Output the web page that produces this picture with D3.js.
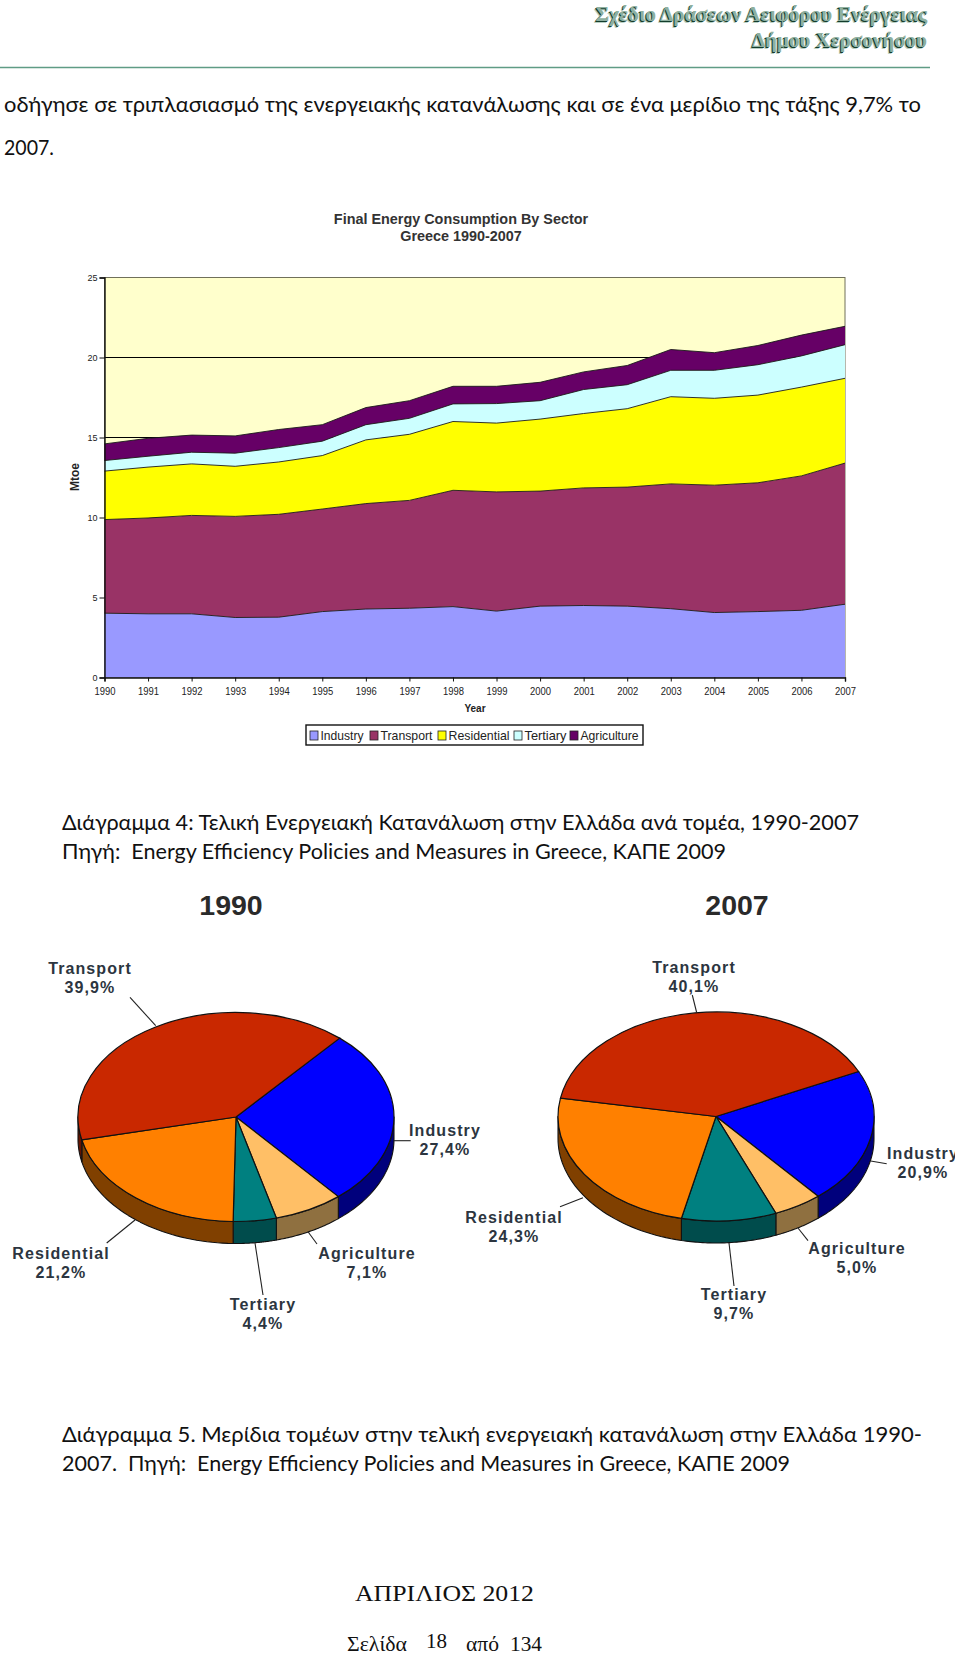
<!DOCTYPE html>
<html><head><meta charset="utf-8">
<script src="https://cdn.jsdelivr.net/npm/d3@7/dist/d3.min.js"></script>
<style>html,body{margin:0;padding:0;background:#fff}svg{display:block}text{font-family:"Liberation Sans",Arial,sans-serif;white-space:pre}</style>
</head><body><svg id="c" width="960" height="1654"></svg>
<script>
const years=[1990,1991,1992,1993,1994,1995,1996,1997,1998,1999,2000,2001,2002,2003,2004,2005,2006,2007];
const seriesNames=["Industry","Transport","Residential","Tertiary","Agriculture"];
const seriesColors=["#9999FF","#993366","#FFFF00","#CCFFFF","#660066"];
const industry=[4.02,3.98,3.98,3.75,3.77,4.12,4.28,4.33,4.43,4.15,4.46,4.50,4.46,4.30,4.06,4.12,4.20,4.58];
const transport=[5.85,5.99,6.15,6.32,6.43,6.41,6.59,6.74,7.27,7.45,7.19,7.35,7.44,7.80,7.96,8.05,8.40,8.82];
const residential=[3.03,3.18,3.22,3.13,3.27,3.34,3.98,4.13,4.30,4.30,4.50,4.65,4.90,5.45,5.43,5.48,5.55,5.30];
const tertiary=[.66,.68,.73,.82,.90,.90,.95,1.0,1.1,1.22,1.15,1.5,1.5,1.65,1.75,1.9,1.95,2.1];
const agriculture=[1.04,1.12,1.07,1.08,1.13,1.03,1.07,1.10,1.10,1.08,1.15,1.10,1.20,1.30,1.10,1.20,1.30,1.15];
const yTicks=[0,5,10,15,20,25];
const pieNames=["Industry","Agriculture","Tertiary","Residential","Transport"];
const pie1990=[27.4,7.1,4.4,21.2,39.9];
const pie2007=[20.9,5.0,9.7,24.3,40.1];
const pieTop=["#0000FF","#FFBF66","#008080","#FF8000","#C92800"];
const pieSide=["#00007C","#8F7040","#004C4C","#804000","#661400"];

const svg=d3.select("#c");

// page text
function bodyText(t,x,y,len,size,fam,extra){
  const e=svg.append("text").attr("x",x).attr("y",y).attr("font-size",size).attr("fill",extra&&extra.fill||"#111")
    .style("font-family",fam).text(t);
  if(len)e.attr("textLength",len).attr("lengthAdjust","spacingAndGlyphs");
  return e;
}
const cal='Lato,"Noto Sans",sans-serif';
const hdr=[["Σχέδιο Δράσεων Αειφόρου Ενέργειας",927,21],["Δήμου Χερσονήσου",927,47]];
hdr.forEach(([t,x,y])=>{
  [["#b7cfc3",2],["#133c2c",1],["#8fb0a0",0]].forEach(([c,o])=>{
    svg.append("text").attr("x",x).attr("y",y+o).attr("dx",-o).attr("text-anchor","end").attr("font-size",21)
      .attr("fill",c).style("font-family",'"Liberation Serif",serif').attr("font-weight","bold").text(t);
  });
});
svg.append("line").attr("x1",0).attr("x2",930).attr("y1",67.5).attr("y2",67.5).attr("stroke","#5f9c85").attr("stroke-width",1.5);
bodyText("οδήγησε σε τριπλασιασμό της ενεργειακής κατανάλωσης και σε ένα μερίδιο της τάξης 9,7% το",4,112,917,21.5,cal);
bodyText("2007.",4,155,50,21.5,cal);
bodyText("Διάγραμμα 4: Τελική Ενεργειακή Κατανάλωση στην Ελλάδα ανά τομέα, 1990-2007",62,830,797,21.5,cal);
bodyText("Πηγή:  Energy Efficiency Policies and Measures in Greece, ΚΑΠΕ 2009",62,859,664,21.5,cal);
bodyText("Διάγραμμα 5. Μερίδια τομέων στην τελική ενεργειακή κατανάλωση στην Ελλάδα 1990-",62,1442,860,21.5,cal);
bodyText("2007.  Πηγή:  Energy Efficiency Policies and Measures in Greece, ΚΑΠΕ 2009",62,1471,728,21.5,cal);
const ser='"Liberation Serif",serif';
bodyText("ΑΠΡΙΛΙΟΣ 2012",355,1601,179,24,ser);
bodyText("Σελίδα",347,1651,60,20,ser);
bodyText("18",426,1648,21,20,ser);
bodyText("από",466,1651,33,20,ser);
bodyText("134",510,1651,32,20,ser);

// stacked area
const x=d3.scaleLinear().domain([1990,2007]).range([104.5,845]);
const y=d3.scaleLinear().domain([0,25]).range([677.5,277.5]);
const rows=years.map((yr,i)=>({year:yr,Industry:industry[i],Transport:transport[i],Residential:residential[i],Tertiary:tertiary[i],Agriculture:agriculture[i]}));
const stacked=d3.stack().keys(seriesNames)(rows);
const g=svg.append("g");
g.append("rect").attr("x",x(1990)).attr("y",y(25)).attr("width",x(2007)-x(1990)).attr("height",y(0)-y(25)).attr("fill","#FFFFCC").attr("stroke","#70705a").attr("stroke-width",1);
g.selectAll("line.grid").data(yTicks.slice(1,-1)).join("line").attr("x1",x(1990)).attr("x2",x(2007)).attr("y1",d=>y(d)).attr("y2",d=>y(d)).attr("stroke","#000").attr("stroke-width",1);
const area=d3.area().x((d,i)=>x(years[i])).y0(d=>y(d[0])).y1(d=>y(d[1]));
const topLine=d3.line().x((d,i)=>x(years[i])).y(d=>y(d[1]));
g.selectAll("path.a").data(stacked).join("path").attr("d",area).attr("fill",(d,i)=>seriesColors[i]);
g.selectAll("path.t").data(stacked).join("path").attr("d",topLine).attr("fill","none").attr("stroke","#1a1a1a").attr("stroke-width",0.9);
const yAxis=d3.axisLeft(y).tickValues(yTicks).tickSize(5).tickPadding(2);
const gy=g.append("g").attr("transform",`translate(${x(1990)},0)`).call(yAxis);
const xAxis=d3.axisBottom(x).tickValues(years).tickFormat(d3.format("d")).tickSize(4).tickPadding(6);
const gx=g.append("g").attr("transform",`translate(0,${y(0)})`).call(xAxis);
[gy,gx].forEach(a=>{a.selectAll("text").attr("font-size",9).attr("fill","#222").style("font-family",'"Liberation Sans"');a.select(".domain").attr("stroke","#111").attr("stroke-width",1.4);a.selectAll("line").attr("stroke","#111");a.attr("font-family",null);});
gx.selectAll("text").attr("font-size",10).attr("textLength",21).attr("lengthAdjust","spacingAndGlyphs");
svg.append("text").attr("transform",`translate(79,477) rotate(-90)`).attr("text-anchor","middle").attr("font-size",12).attr("font-weight","bold").attr("fill","#222").text("Mtoe");
svg.append("text").attr("x",475).attr("y",712).attr("text-anchor","middle").attr("font-size",10).attr("font-weight","bold").attr("fill","#222").text("Year");
svg.append("text").attr("x",461).attr("y",224).attr("text-anchor","middle").attr("font-size",14.4).attr("font-weight","bold").attr("fill","#333").text("Final Energy Consumption By Sector");
svg.append("text").attr("x",461).attr("y",241).attr("text-anchor","middle").attr("font-size",14.4).attr("font-weight","bold").attr("fill","#333").text("Greece 1990-2007");
// legend
const legend=svg.append("g");
legend.append("rect").attr("x",306).attr("y",725).attr("width",337).attr("height",20).attr("fill","#fff").attr("stroke","#111").attr("stroke-width",1.4);
const legX=[310,370,438,514,570];
const legW=[43,52,61,42,58];
seriesNames.forEach((n,i)=>{
  legend.append("rect").attr("x",legX[i]).attr("y",731).attr("width",8).attr("height",9).attr("fill",seriesColors[i]).attr("stroke","#222").attr("stroke-width",.8);
  legend.append("text").attr("x",legX[i]+10.5).attr("y",740).attr("font-size",13).attr("fill","#222").attr("textLength",legW[i]).attr("lengthAdjust","spacingAndGlyphs").text(n);
});

// pies
const pieDepth=22, RX=158, RY=104.5;
function drawPie(cx,cy,vals,start,title,titleX,labels){
  const p=svg.append("g");
  const arcs=d3.pie().sort(null).value(d=>d).startAngle(start).endAngle(start+2*Math.PI)(vals);
  const px=a=>RX*Math.sin(a), py=a=>-RY*Math.cos(a);
  const wall=p.append("g").attr("transform",`translate(${cx},${cy})`);
  arcs.forEach((a,i)=>{
    [0,2*Math.PI].forEach(shift=>{
      const a0=Math.max(a.startAngle-shift,Math.PI/2), a1=Math.min(a.endAngle-shift,3*Math.PI/2);
      if(a1<=a0)return;
      const ts=d3.range(0,41).map(k=>a0+(a1-a0)*k/40);
      const pts=ts.map(t=>[px(t),py(t)]).concat(ts.slice().reverse().map(t=>[px(t),py(t)+pieDepth]));
      wall.append("path").attr("d",d3.line()(pts)+"Z").attr("fill",pieSide[i]).attr("stroke","#111").attr("stroke-width",1.1).attr("stroke-linejoin","round");
    });
  });
  const face=p.append("g").attr("transform",`translate(${cx},${cy}) scale(1,${RY/RX})`);
  face.selectAll("path").data(arcs).join("path").attr("d",d3.arc().innerRadius(0).outerRadius(RX))
    .attr("fill",(d,i)=>pieTop[i]).attr("stroke","#111").attr("stroke-width",1.2).style("vector-effect","non-scaling-stroke");
  p.append("text").attr("x",titleX).attr("y",915).attr("text-anchor","middle").attr("font-size",28.5).attr("font-weight","bold").attr("fill","#2a2a2a").text(title);
  labels.forEach((l,i)=>{
    p.append("line").attr("x1",l.l[0]).attr("y1",l.l[1]).attr("x2",l.l[2]).attr("y2",l.l[3]).attr("stroke","#222").attr("stroke-width",1.1);
    const t=p.append("g").attr("font-size",16).attr("font-weight","bold").attr("fill","#2c3540").attr("text-anchor","middle").style("letter-spacing","1.1px").attr("clip-path","url(#pg)");
    t.append("text").attr("x",l.c).attr("y",l.y).text(pieNames[i]);
    t.append("text").attr("x",l.c).attr("y",l.y+19).text(d3.format(".1f")(vals[i]).replace(".",",")+"%");
  });
}
svg.append("clipPath").attr("id","pg").append("rect").attr("x",0).attr("y",0).attr("width",955).attr("height",1654);
const deg=Math.PI/180;
const lab1990=[{c:445,y:1136,l:[394,1140.7,410.7,1140.7]},{c:367,y:1259,l:[308,1231.7,317,1244]},{c:263,y:1310,l:[255,1243,263,1295]},{c:61,y:1259,l:[135,1220,106.7,1243]},{c:90,y:974,l:[130,997.3,155.7,1025.7]}];
const lab2007=[{c:923,y:1159,l:[870.7,1161,886.7,1163.7]},{c:857,y:1254,l:[798,1228,808,1240.7]},{c:734,y:1300,l:[729,1243,734,1286]},{c:514,y:1223,l:[583,1197.7,560,1206.7]},{c:694,y:973,l:[692.3,995,696.7,1012.7]}];
drawPie(236,1117,pie1990,41*deg,"1990",231,lab1990);
drawPie(716,1116.5,pie2007,64.5*deg,"2007",737,lab2007);
</script></body></html>
